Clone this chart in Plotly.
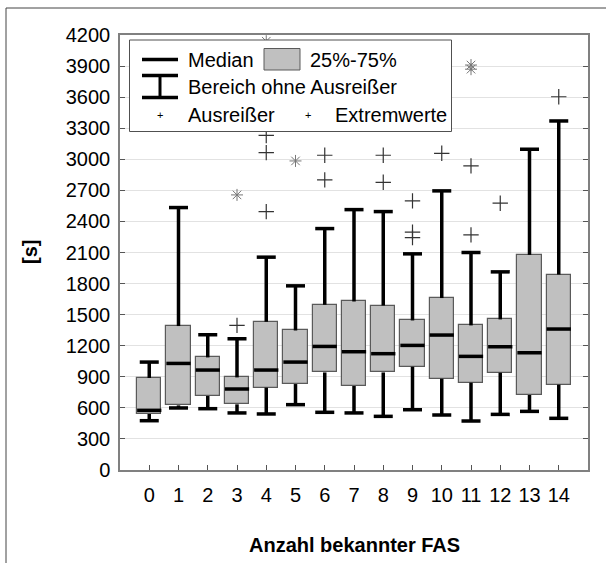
import plotly.graph_objects as go

# Anzahl bekannter FAS (categories) and box statistics in seconds
categories = list(range(15))
upper_whisker = [1042, 2534, 1306, 1267, 2055, 1778, 2331, 2514, 2495, 2087, 2695, 2100, 1913, 3097, 3370]
q3 = [888, 1390, 1087, 894, 1431, 1347, 1595, 1627, 1588, 1444, 1660, 1396, 1454, 2077, 1887]
median = [576, 1029, 965, 782, 965, 1042, 1193, 1142, 1123, 1203, 1303, 1097, 1190, 1132, 1361]
q1 = [541, 624, 715, 634, 795, 830, 942, 811, 942, 997, 881, 843, 939, 724, 824]
lower_whisker = [476, 599, 592, 551, 541, 631, 557, 551, 518, 582, 531, 473, 537, 566, 499]

# Ausreißer (outliers) and Extremwerte (extremes)
outlier_cat = [3, 4, 4, 4, 6, 6, 8, 8, 9, 9, 9, 10, 11, 11, 12, 14]
outlier_val = [1396, 3230, 3064, 2495, 3039, 2801, 3039, 2778, 2598, 2296, 2244, 3058, 2936, 2270, 2576, 3604]
extreme_cat = [3, 4, 5, 11, 11]
extreme_val = [2656, 4140, 2984, 3910, 3870]

y_ticks = list(range(0, 4201, 300))

FONT = "Liberation Sans, Arial, sans-serif"
BOX_W = 0.83
CAP_W = 0.65

fig = go.Figure()

# boxes (25%-75%)
fig.add_trace(go.Bar(
    x=categories, y=[b - a for a, b in zip(q1, q3)], base=q1, width=BOX_W,
    marker=dict(color="#c0c0c0", line=dict(color="#5a5a5a", width=1.2)),
    hoverinfo="skip", showlegend=False,
))

# whiskers with caps
wx, wy = [], []
for c, lo, a, b, hi in zip(categories, lower_whisker, q1, q3, upper_whisker):
    wx += [c, c, None, c, c, None]
    wy += [b, hi, None, a, lo, None]
    wx += [c - CAP_W / 2, c + CAP_W / 2, None, c - CAP_W / 2, c + CAP_W / 2, None]
    wy += [hi, hi, None, lo, lo, None]
fig.add_trace(go.Scatter(x=wx, y=wy, mode="lines", line=dict(color="black", width=3.5),
                         hoverinfo="skip", showlegend=False))

# medians
mx, my = [], []
for c, m in zip(categories, median):
    mx += [c - BOX_W / 2, c + BOX_W / 2, None]
    my += [m, m, None]
fig.add_trace(go.Scatter(x=mx, y=my, mode="lines", line=dict(color="black", width=3.5),
                         hoverinfo="skip", showlegend=False))

fig.add_trace(go.Scatter(
    x=outlier_cat, y=outlier_val, mode="markers",
    marker=dict(symbol="cross-thin-open", size=11, color="#333333",
                line=dict(color="#333333", width=1.2)),
    showlegend=False,
))
fig.add_trace(go.Scatter(
    x=extreme_cat, y=extreme_val, mode="markers",
    marker=dict(symbol="asterisk-open", size=10, color="#777777",
                line=dict(color="#777777", width=1)),
    showlegend=False,
))

# plot area in pixels, used to place the legend box in paper coordinates
L, R, T, B = 120, 588, 35, 470
W_PX, H_PX = 606, 563


def px(xp):
    return (xp - L) / (R - L)


def py(yp):
    return (B - yp) / (B - T)


shapes = []
annotations = []

# outer frame
shapes.append(dict(type="rect", xref="paper", yref="paper",
                   x0=px(6), x1=px(620), y0=py(8), y1=py(580),
                   line=dict(color="#444444", width=1), layer="above"))

# legend box
shapes.append(dict(type="rect", xref="paper", yref="paper",
                   x0=px(129.5), x1=px(451.5), y0=py(40), y1=py(131.5),
                   line=dict(color="#505050", width=1), fillcolor="white", layer="above"))
# median sample line
shapes.append(dict(type="line", xref="paper", yref="paper",
                   x0=px(142), x1=px(178), y0=py(59.5), y1=py(59.5),
                   line=dict(color="black", width=3.5), layer="above"))
# box sample
shapes.append(dict(type="rect", xref="paper", yref="paper",
                   x0=px(264), x1=px(300), y0=py(48.5), y1=py(70),
                   line=dict(color="#5a5a5a", width=1), fillcolor="#c0c0c0", layer="above"))
# whisker sample
for yy in (75.5, 97.5):
    shapes.append(dict(type="line", xref="paper", yref="paper",
                       x0=px(142), x1=px(178), y0=py(yy), y1=py(yy),
                       line=dict(color="black", width=3.5), layer="above"))
shapes.append(dict(type="line", xref="paper", yref="paper",
                   x0=px(160), x1=px(160), y0=py(75.5), y1=py(97.5),
                   line=dict(color="black", width=3), layer="above"))


def label(x, y, text, size=20, xanchor="left", **kw):
    annotations.append(dict(xref="paper", yref="paper", x=px(x), y=py(y), text=text,
                            showarrow=False, xanchor=xanchor, yanchor="middle",
                            font=dict(family=FONT, size=size, color="black"), **kw))


label(186, 60, "Median")
label(308, 60, "25%-75%")
label(186, 87, "Bereich ohne Ausreißer")
label(159.5, 115, "+", size=11, xanchor="center")
label(186, 115, "Ausreißer")
label(307.5, 115, "+", size=11, xanchor="center")
label(333, 115, "Extremwerte")

# axis titles
label(354, 545, "<b>Anzahl bekannter FAS</b>", size=20, xanchor="center")
label(30, 252, "<b>[s]</b>", size=20, xanchor="center", textangle=-90)

fig.update_layout(
    width=W_PX, height=H_PX,
    margin=dict(l=L, r=W_PX - R, t=T, b=H_PX - B),
    paper_bgcolor="white", plot_bgcolor="white",
    font=dict(family=FONT, size=20, color="black"),
    shapes=shapes, annotations=annotations,
    showlegend=False,
    bargap=0,
)
fig.update_xaxes(
    range=[-1, 15], tickmode="array", tickvals=categories,
    ticktext=[str(c) for c in categories],
    ticks="inside", ticklen=5, tickcolor="#555555",
    showgrid=False, zeroline=False,
    showline=True, linecolor="#808080", linewidth=1.5, mirror=True,
    ticklabelstandoff=6,
)
fig.update_yaxes(
    range=[0, 4200], tickmode="array", tickvals=y_ticks,
    ticks="inside", ticklen=5, tickcolor="#555555",
    showgrid=True, gridcolor="#e2e2e2", gridwidth=1, zeroline=False,
    showline=True, linecolor="#808080", linewidth=1.5, mirror="ticks",
    ticklabelstandoff=4,
)

fig.write_html("out.html")
